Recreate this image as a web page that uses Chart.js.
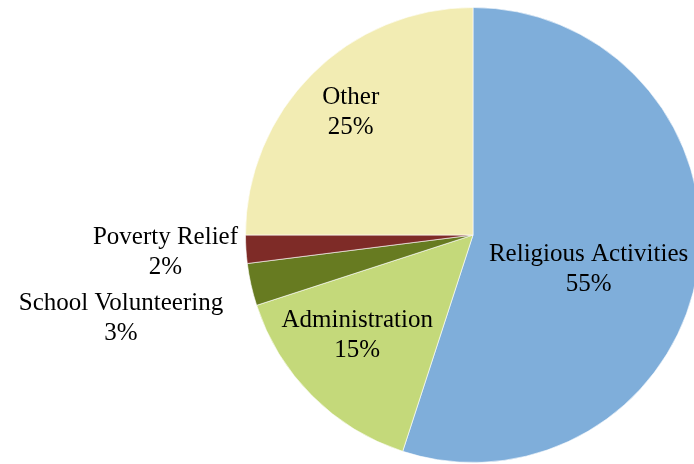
<!DOCTYPE html>
<html>
<head>
<meta charset="utf-8">
<script src="https://cdn.jsdelivr.net/npm/chart.js@4/dist/chart.umd.min.js"></script>
<style>
  html, body { margin: 0; padding: 0; background: #fff; overflow: hidden; }
  #wrap { position: absolute; left: 0; top: 0; width: 710px; height: 464px; }
</style>
</head>
<body>
<div id="wrap"><canvas id="pie" width="710" height="464"></canvas></div>
<script>
const categories = ['Religious Activities', 'Administration', 'School Volunteering', 'Poverty Relief', 'Other'];
const shares = [55, 15, 3, 2, 25];
const sliceColors = ['#7FAEDA', '#C4D97A', '#677B21', '#7E2B27', '#F2ECB3'];

// where each label sits: radius factor (of outer radius), outside flag, pixel nudge
const labelSpots = [
  { f: 0.55, outside: false, dx: -8, dy: 15 },
  { f: 0.67, outside: false, dx: -8, dy: -7 },
  { f: 1.035, outside: true, dx: -20, dy: 32 },
  { f: 1.035, outside: true, dx: 0, dy: 3 },
  { f: 0.76, outside: false, dx: 0, dy: 0 }
];

const sliceLabels = {
  id: 'sliceLabels',
  afterDatasetsDraw(chart) {
    const ctx = chart.ctx;
    const meta = chart.getDatasetMeta(0);
    ctx.save();
    ctx.font = '25px "Liberation Serif", "DejaVu Serif", serif';
    ctx.fillStyle = '#000';
    ctx.textBaseline = 'middle';
    ctx.textAlign = 'center';
    const lineH = 30;
    meta.data.forEach((arc, i) => {
      const { x, y, startAngle, endAngle, outerRadius } = arc.getProps(['x', 'y', 'startAngle', 'endAngle', 'outerRadius'], true);
      const mid = (startAngle + endAngle) / 2;
      const spot = labelSpots[i];
      let cx = x + Math.cos(mid) * outerRadius * spot.f;
      let cy = y + Math.sin(mid) * outerRadius * spot.f;
      const lines = [categories[i], shares[i] + '%'];
      if (spot.outside) {
        const w = Math.max(...lines.map(t => ctx.measureText(t).width));
        cx -= w / 2;
      }
      cx += spot.dx;
      cy += spot.dy;
      ctx.fillText(lines[0], cx, cy - lineH / 2);
      ctx.fillText(lines[1], cx, cy + lineH / 2);
    });
    ctx.restore();
  }
};

new Chart(document.getElementById('pie').getContext('2d'), {
  type: 'pie',
  data: {
    labels: categories,
    datasets: [{
      data: shares,
      backgroundColor: sliceColors,
      borderColor: 'rgba(255,255,255,0.6)',
      borderWidth: 1
    }]
  },
  options: {
    responsive: false,
    animation: false,
    layout: { padding: { left: 245, right: 9, top: 7, bottom: 1 } },
    plugins: {
      legend: { display: false },
      tooltip: { enabled: false }
    }
  },
  plugins: [sliceLabels]
});
</script>
</body>
</html>
